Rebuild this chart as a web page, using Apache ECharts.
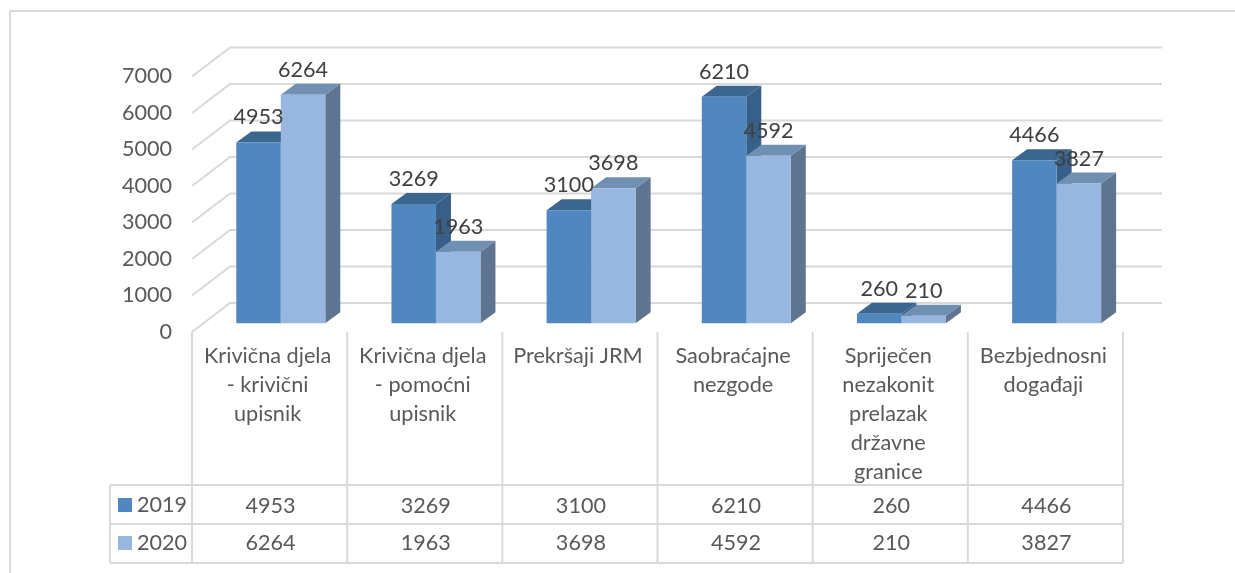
<!DOCTYPE html>
<html>
<head>
<meta charset="utf-8">
<style>html,body{margin:0;padding:0;background:#fff}#c{width:1235px;height:573px;filter:blur(0.4px)}</style>
<script src="https://cdn.jsdelivr.net/npm/echarts@6/dist/echarts.min.js"></script>
</head>
<body>
<div id="c"></div>
<script>
const categories = ['Krivična djela\n- krivični\nupisnik','Krivična djela\n- pomoćni\nupisnik','Prekršaji JRM','Saobraćajne\nnezgode','Spriječen\nnezakonit\nprelazak\ndržavne\ngranice','Bezbjednosni\ndogađaji'];
const values2019 = [4953,3269,3100,6210,260,4466];
const values2020 = [6264,1963,3698,4592,210,3827];
const axisTicks = [0,1000,2000,3000,4000,5000,6000,7000];

const FONT = 'Lato, "Open Sans", sans-serif';
const GRID = {left:192, top:76.5, width:931, height:255.5};
const WALL = {dx:38, dy:-29};
const INSET = {dx:11.2, dy:-8.7};
const DEPTH = {dx:15, dy:-11};
const BAR_W = 44.5;
const LINE = '#d9d9d9';

function wallLines(params, api){
  const cs = params.coordSys;
  const y = api.coord([0, api.value(1)])[1];
  return {type:'polyline', shape:{points:[[cs.x,y],[cs.x+WALL.dx,y+WALL.dy],[cs.x+cs.width+39,y+WALL.dy]]},
    style:{stroke:LINE, lineWidth:2, fill:null}, silent:true};
}
function barSeries(name, idx, colors, rowY, values){
  return {
    name, type:'custom', z:3, silent:true,
    itemStyle:{color:colors.front},
    data: values.map((v,i)=>[i,v]),
    renderItem(params, api){
      const p = api.coord([api.value(0), api.value(1)]);
      const b = api.coord([api.value(0), 0]);
      const x0 = p[0] + INSET.dx + (idx-1)*BAR_W, x1 = x0 + BAR_W;
      const yt = p[1] + INSET.dy, yb = b[1] + INSET.dy;
      const d = DEPTH;
      return {type:'group', children:[
        {type:'polygon', shape:{points:[[x1,yt],[x1+d.dx,yt+d.dy],[x1+d.dx,yb+d.dy],[x1,yb]]}, style:{fill:colors.side}},
        {type:'polygon', shape:{points:[[x0,yt],[x0+d.dx,yt+d.dy],[x1+d.dx,yt+d.dy],[x1,yt]]}, style:{fill:colors.top}},
        {type:'rect', shape:{x:x0,y:yt,width:BAR_W,height:yb-yt}, style:{fill:colors.front}},
        {type:'text', z2:100, style:{text:String(api.value(1)), x:(x0+x1)/2, y:yt-25, fill:'#404040', font:'21.6px '+FONT, align:'center', verticalAlign:'middle'}},
        {type:'text', z2:100, style:{text:String(api.value(1)), x:p[0]+1, y:rowY, fill:'#595959', font:'21.6px '+FONT, align:'center', verticalAlign:'middle'}}
      ]};
    }
  };
}

// frame and data-table rules
const tableLines = [];
const seg = (x1,y1,x2,y2)=>tableLines.push({type:'line', silent:true, z:0, shape:{x1,y1,x2,y2}, style:{stroke:LINE, lineWidth:2}});
seg(10,573,10,11); seg(10,11,1235,11);
[485,524,563].forEach(y=>seg(110,y,1123,y));
seg(110,485,110,563);
categories.forEach((c,i)=>seg(GRID.left+i*GRID.width/6,332,GRID.left+i*GRID.width/6,563));
seg(1123,332,1123,563);

const chart = echarts.init(document.getElementById('c'), null, {renderer:'canvas'});
chart.setOption({
  animation:false,
  backgroundColor:'#fff',
  grid:{left:GRID.left, top:GRID.top, width:GRID.width, height:GRID.height, containLabel:false},
  legend:{data:['2019','2020'], orient:'vertical', left:118, top:493, itemWidth:14, itemHeight:14, itemGap:14, icon:'rect', selectedMode:false, padding:0,
    textStyle:{fontFamily:FONT, fontSize:21.6, color:'#595959', lineHeight:24, padding:[0,0,0,0]}},
  xAxis:{type:'category', data:categories, axisLine:{show:false}, axisTick:{show:false}, splitLine:{show:false},
    axisLabel:{interval:0, margin:9, fontFamily:FONT, fontSize:21.7, color:'#595959', lineHeight:29.2, verticalAlign:'top', align:'center', padding:[0,4,0,0]}},
  yAxis:{type:'value', min:0, max:7000, interval:1000, axisLine:{show:false}, axisTick:{show:false}, splitLine:{show:false},
    axisLabel:{margin:20, fontFamily:FONT, fontSize:21.6, color:'#595959', padding:[4,0,0,0], formatter:v=>String(v)}},
  graphic:tableLines,
  series:[
    {type:'custom', z:1, silent:true, data:axisTicks.map(v=>[0,v]), renderItem:wallLines},
    barSeries('2019',0,{front:'#5087BE',top:'#3A6690',side:'#375F87'},506,values2019),
    barSeries('2020',1,{front:'#97B7E0',top:'#6F8FB3',side:'#5F758F'},543,values2020)
  ]
});
</script>
</body>
</html>
